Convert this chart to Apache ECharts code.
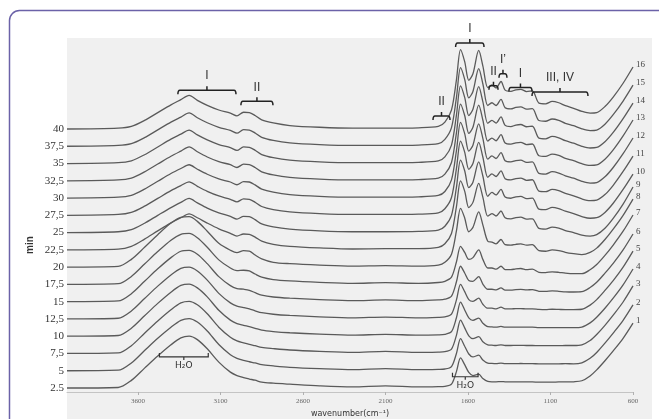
<!DOCTYPE html>
<html>
<head>
<meta charset="UTF-8">
<title>FTIR spectra vs time</title>
<script src="https://cdn.jsdelivr.net/npm/echarts@6/dist/echarts.min.js"></script>
<style>
  html, body { margin: 0; padding: 0; background: #fff; }
  #chart { width: 659px; height: 419px; }
</style>
</head>
<body>
<div id="chart"></div>
<script>
// wavenumber grid (cm-1), shared by all spectra
var wavenumber = [4030, 3720, 3640, 3560, 3480, 3400, 3340, 3290, 3240, 3180, 3110, 3040, 3000, 2960, 2925, 2890, 2850, 2780, 2680,
  2500, 2300, 2100, 1900, 1780, 1740, 1700, 1670,
  1645, 1620, 1595, 1570, 1535, 1510, 1480,
  1455, 1430, 1400, 1375, 1340, 1310, 1280, 1245, 1210, 1170, 1130, 1090, 1050, 1010,
  960, 910, 860, 820, 770, 720, 660, 600];

// absorbance of each spectrum (1 unit = one stacking step)
var s1 = [0, 0.03, 0.44, 1.15, 1.85, 2.5, 2.9, 3.0, 2.8, 2.27, 1.5, 0.92, 0.72, 0.6, 0.52, 0.45, 0.34, 0.28, 0.22,
  0.12, 0.06, 0.12, 0.06, 0.08, 0.1, 0.22, 0.95,
  1.74, 1.35, 0.9, 0.72, 0.8, 0.55, 0.38,
  0.36, 0.36, 0.37, 0.36, 0.35, 0.36, 0.36, 0.35, 0.35, 0.34, 0.34, 0.34, 0.35, 0.35,
  0.36, 0.42, 0.7, 1.05, 1.58, 2.15, 2.88, 3.76];
var s2 = [0, 0.03, 0.45, 1.17, 1.88, 2.52, 2.92, 3.02, 2.82, 2.3, 1.52, 0.93, 0.72, 0.6, 0.52, 0.45, 0.35, 0.28, 0.2,
  0.12, 0.06, 0.12, 0.06, 0.08, 0.1, 0.24, 1.0,
  1.86, 1.42, 0.97, 0.8, 0.9, 0.62, 0.44,
  0.42, 0.41, 0.44, 0.41, 0.41, 0.41, 0.42, 0.41, 0.41, 0.4, 0.4, 0.4, 0.4, 0.41,
  0.4, 0.46, 0.72, 1.06, 1.6, 2.18, 2.92, 3.81];
var s3 = [0, 0.03, 0.45, 1.17, 1.88, 2.53, 2.93, 3.02, 2.82, 2.3, 1.52, 0.94, 0.73, 0.62, 0.53, 0.45, 0.35, 0.28, 0.2,
  0.12, 0.06, 0.12, 0.06, 0.08, 0.1, 0.25, 1.05,
  1.93, 1.48, 1.02, 0.86, 0.97, 0.68, 0.5,
  0.48, 0.46, 0.5, 0.46, 0.46, 0.47, 0.47, 0.46, 0.46, 0.45, 0.45, 0.45, 0.45, 0.46,
  0.46, 0.5, 0.75, 1.1, 1.63, 2.22, 2.98, 3.91];
var s4 = [0, 0.04, 0.46, 1.18, 1.9, 2.55, 2.94, 3.02, 2.8, 2.28, 1.5, 0.93, 0.73, 0.63, 0.55, 0.46, 0.35, 0.27, 0.2,
  0.12, 0.06, 0.11, 0.06, 0.08, 0.11, 0.26, 1.07,
  1.97, 1.52, 1.06, 0.92, 1.05, 0.75, 0.55,
  0.54, 0.52, 0.57, 0.52, 0.52, 0.53, 0.53, 0.52, 0.52, 0.5, 0.5, 0.5, 0.5, 0.5,
  0.5, 0.53, 0.77, 1.1, 1.62, 2.2, 2.97, 3.89];
var s5 = [0, 0.04, 0.46, 1.18, 1.9, 2.55, 2.93, 3.0, 2.78, 2.25, 1.48, 0.93, 0.74, 0.66, 0.58, 0.47, 0.36, 0.27, 0.2,
  0.12, 0.06, 0.11, 0.06, 0.09, 0.12, 0.28, 1.1,
  2.0, 1.58, 1.12, 1.02, 1.2, 0.85, 0.62,
  0.62, 0.58, 0.68, 0.58, 0.58, 0.6, 0.6, 0.58, 0.58, 0.55, 0.54, 0.56, 0.55, 0.54,
  0.54, 0.56, 0.8, 1.12, 1.65, 2.22, 3.0, 3.93];
var s6 = [0, 0.04, 0.46, 1.18, 1.9, 2.55, 2.92, 2.97, 2.75, 2.2, 1.45, 0.93, 0.76, 0.72, 0.66, 0.52, 0.38, 0.27, 0.2,
  0.12, 0.06, 0.1, 0.06, 0.1, 0.14, 0.32, 1.15,
  2.05, 1.66, 1.22, 1.18, 1.45, 1.02, 0.72,
  0.72, 0.68, 0.8, 0.67, 0.67, 0.7, 0.71, 0.68, 0.7, 0.6, 0.59, 0.62, 0.6, 0.57,
  0.56, 0.58, 0.82, 1.12, 1.65, 2.22, 3.0, 3.92];
var s7 = [0, 0.04, 0.46, 1.18, 1.9, 2.56, 2.9, 2.95, 2.7, 2.15, 1.42, 0.95, 0.8, 0.82, 0.78, 0.6, 0.42, 0.28, 0.2,
  0.12, 0.06, 0.1, 0.06, 0.11, 0.18, 0.42, 1.3,
  2.2, 1.85, 1.45, 1.55, 2.0, 1.45, 0.95,
  0.95, 0.88, 1.05, 0.86, 0.85, 0.9, 0.92, 0.86, 0.88, 0.7, 0.68, 0.73, 0.7, 0.65,
  0.62, 0.62, 0.85, 1.15, 1.68, 2.28, 3.08, 4.02];
var s8 = [0, 0.04, 0.45, 1.15, 1.88, 2.55, 2.88, 2.92, 2.65, 2.08, 1.38, 0.98, 0.84, 0.95, 0.93, 0.7, 0.48, 0.28, 0.2,
  0.12, 0.06, 0.09, 0.06, 0.12, 0.28, 0.75, 2.1,
  3.4, 2.85, 2.05, 2.3, 3.2, 2.45, 1.5,
  1.45, 1.35, 1.6, 1.3, 1.27, 1.32, 1.35, 1.27, 1.3, 0.95, 0.92, 1.0, 0.96, 0.86,
  0.78, 0.72, 0.85, 1.1, 1.6, 2.2, 3.0, 3.94];
var s9 = [0, 0.04, 0.2, 0.62, 1.1, 1.56, 1.86, 2.08, 1.86, 1.55, 1.22, 0.96, 0.8, 0.92, 0.9, 0.74, 0.5, 0.32, 0.2,
  0.11, 0.05, 0.07, 0.07, 0.14, 0.35, 0.95, 2.5,
  4.0, 3.4, 2.45, 2.75, 3.85, 3.05, 1.95,
  2.1, 1.96, 2.25, 1.86, 1.8, 1.87, 1.9, 1.78, 1.8, 1.24, 1.2, 1.32, 1.26, 1.12,
  1.0, 0.85, 0.8, 0.88, 1.25, 1.82, 2.65, 3.64];
var s10 = [0, 0.05, 0.17, 0.54, 1.0, 1.45, 1.75, 1.98, 1.72, 1.42, 1.14, 0.94, 0.78, 0.94, 0.92, 0.75, 0.5, 0.33, 0.2,
  0.1, 0.05, 0.05, 0.07, 0.14, 0.37, 1.0, 2.62,
  4.2, 3.58, 2.6, 2.92, 4.1, 3.28, 2.1,
  2.33, 2.18, 2.5, 2.06, 1.99, 2.07, 2.1, 1.97, 2.0, 1.36, 1.33, 1.46, 1.39, 1.24,
  1.1, 0.93, 0.83, 0.86, 1.17, 1.7, 2.5, 3.39];
var s11 = [0, 0.05, 0.17, 0.53, 0.98, 1.43, 1.72, 1.94, 1.68, 1.39, 1.12, 0.93, 0.78, 0.95, 0.93, 0.76, 0.51, 0.33, 0.2,
  0.1, 0.05, 0.05, 0.07, 0.14, 0.38, 1.03, 2.7,
  4.3, 3.66, 2.66, 3.0, 4.22, 3.38, 2.2,
  2.4, 2.25, 2.58, 2.12, 2.05, 2.13, 2.16, 2.03, 2.06, 1.4, 1.37, 1.5, 1.43, 1.27,
  1.13, 0.95, 0.85, 0.88, 1.2, 1.74, 2.54, 3.43];
var s12 = [0, 0.05, 0.16, 0.52, 0.97, 1.42, 1.71, 1.93, 1.67, 1.38, 1.11, 0.93, 0.77, 0.95, 0.93, 0.76, 0.52, 0.34, 0.2,
  0.1, 0.05, 0.05, 0.07, 0.15, 0.38, 1.05, 2.74,
  4.38, 3.73, 2.72, 3.06, 4.3, 3.46, 2.25,
  2.44, 2.29, 2.63, 2.16, 2.09, 2.17, 2.2, 2.07, 2.1, 1.43, 1.39, 1.53, 1.45, 1.29,
  1.15, 0.97, 0.87, 0.9, 1.23, 1.77, 2.57, 3.48];
var s13 = [0, 0.05, 0.16, 0.52, 0.97, 1.42, 1.72, 1.96, 1.68, 1.38, 1.11, 0.93, 0.77, 0.96, 0.94, 0.77, 0.52, 0.34, 0.2,
  0.1, 0.05, 0.05, 0.07, 0.15, 0.39, 1.06, 2.77,
  4.44, 3.78, 2.75, 3.1, 4.38, 3.52, 2.3,
  2.47, 2.32, 2.67, 2.19, 2.12, 2.2, 2.23, 2.1, 2.13, 1.45, 1.41, 1.55, 1.47, 1.3,
  1.17, 0.99, 0.89, 0.92, 1.25, 1.79, 2.6, 3.52];
var s14 = [0, 0.05, 0.16, 0.51, 0.96, 1.41, 1.7, 1.94, 1.66, 1.37, 1.1, 0.92, 0.76, 0.96, 0.94, 0.77, 0.52, 0.34, 0.2,
  0.1, 0.05, 0.05, 0.07, 0.15, 0.39, 1.07, 2.8,
  4.5, 3.83, 2.78, 3.14, 4.45, 3.58, 2.33,
  2.5, 2.34, 2.7, 2.21, 2.14, 2.23, 2.26, 2.13, 2.16, 1.47, 1.43, 1.57, 1.49, 1.32,
  1.18, 1.0, 0.9, 0.93, 1.26, 1.8, 2.6, 3.5];
var s15 = [0, 0.05, 0.15, 0.5, 0.95, 1.4, 1.69, 1.93, 1.65, 1.36, 1.1, 0.92, 0.76, 0.96, 0.94, 0.77, 0.52, 0.34, 0.2,
  0.1, 0.05, 0.05, 0.07, 0.15, 0.4, 1.08, 2.82,
  4.55, 3.87, 2.8, 3.17, 4.5, 3.62, 2.36,
  2.52, 2.36, 2.72, 2.23, 2.16, 2.25, 2.28, 2.15, 2.18, 1.49, 1.45, 1.58, 1.5, 1.33,
  1.19, 1.01, 0.91, 0.94, 1.28, 1.83, 2.62, 3.54];
var s16 = [0, 0.05, 0.15, 0.5, 0.95, 1.4, 1.7, 1.95, 1.66, 1.37, 1.1, 0.92, 0.76, 0.97, 0.95, 0.78, 0.53, 0.35, 0.2,
  0.1, 0.05, 0.05, 0.07, 0.15, 0.4, 1.1, 2.85,
  4.6, 3.9, 2.82, 3.2, 4.55, 3.66, 2.4,
  2.55, 2.38, 2.75, 2.25, 2.18, 2.27, 2.3, 2.17, 2.2, 1.5, 1.46, 1.6, 1.52, 1.35,
  1.2, 1.02, 0.92, 0.95, 1.3, 1.85, 2.65, 3.59];

var spectra = [s1, s2, s3, s4, s5, s6, s7, s8, s9, s10, s11, s12, s13, s14, s15, s16];
var minLabels = ['2.5', '5', '7,5', '10', '12,5', '15', '17,5', '20', '22,5', '25', '27,5', '30', '32,5', '35', '37,5', '40'];
var specLabels = ['1', '2', '3', '4', '5', '6', '7', '8', '9', '10', '11', '12', '13', '14', '15', '16'];
var xTicks = [600, 1100, 1600, 2100, 2600, 3100, 3600];

// band assignments (brackets above the stack)
var bandText = ['I', 'II', 'II', 'I', 'II', 'I\u2019', 'I', 'III, IV'];
var bandFrom = [3358, 2976, 1812, 1675, 1473, 1412, 1352, 1212];
var bandTo = [3006, 2782, 1709, 1503, 1418, 1364, 1212, 873];
var bandLevel = [17.25, 16.6, 15.75, 19.98, 17.5, 18.2, 17.4, 17.14];
// water brackets (below, inside the first spectrum)
var waterFrom = [3470, 1694];
var waterTo = [3174, 1539];
var waterLevel = [1.8, 0.65];

var chart = echarts.init(document.getElementById('chart'));

var lineColor = '#5a5a5a';
var series = spectra.map(function (s, i) {
  var data = s.map(function (v, j) {
    var item = { value: [wavenumber[j], v + i] };
    if (j === 0) {
      item.label = {
        show: true, position: 'left', distance: 3, formatter: minLabels[i],
        fontFamily: 'Liberation Serif', fontSize: 11, color: '#333'
      };
    } else if (j === s.length - 1) {
      item.label = {
        show: true, position: 'right', distance: 3, offset: [0, -2], formatter: specLabels[i],
        fontFamily: 'Liberation Serif', fontSize: 9, color: '#444'
      };
    }
    return item;
  });
  return {
    type: 'line',
    data: data,
    smooth: 0.3,
    showSymbol: true,
    symbol: 'circle',
    symbolSize: 0,
    clip: false,
    silent: true,
    label: { show: false },
    emphasis: { disabled: true },
    lineStyle: { color: lineColor, width: 1.3 },
    itemStyle: { color: lineColor },
    z: 3
  };
});

series.push({
  type: 'custom',
  clip: false,
  silent: true,
  z: 5,
  data: bandText.map(function (t, i) { return [bandFrom[i], bandTo[i], bandLevel[i], i]; }),
  encode: { x: [0, 1], y: 2 },
  renderItem: function (params, api) {
    var a = api.coord([api.value(0), api.value(2)]);
    var b = api.coord([api.value(1), api.value(2)]);
    var x1 = Math.min(a[0], b[0]), x2 = Math.max(a[0], b[0]), y = a[1], cx = (x1 + x2) / 2;
    var p = 'M' + x1 + ' ' + (y + 4) + ' Q' + x1 + ' ' + y + ' ' + (x1 + 2) + ' ' + y +
      ' L' + (x2 - 2) + ' ' + y + ' Q' + x2 + ' ' + y + ' ' + x2 + ' ' + (y + 4) +
      ' M' + cx + ' ' + y + ' L' + cx + ' ' + (y - 4);
    return {
      type: 'group',
      children: [
        { type: 'path', shape: { pathData: p }, style: { fill: 'none', stroke: '#222', lineWidth: 1.5 } },
        { type: 'text', x: cx, y: y - 14, style: { text: bandText[api.value(3)], fill: '#333', font: '12px "Liberation Sans"', align: 'center', verticalAlign: 'middle' } }
      ]
    };
  }
});

series.push({
  type: 'custom',
  clip: false,
  silent: true,
  z: 5,
  data: waterFrom.map(function (f, i) { return [f, waterTo[i], waterLevel[i]]; }),
  encode: { x: [0, 1], y: 2 },
  renderItem: function (params, api) {
    var a = api.coord([api.value(0), api.value(2)]);
    var b = api.coord([api.value(1), api.value(2)]);
    var x1 = Math.min(a[0], b[0]), x2 = Math.max(a[0], b[0]), y = a[1], cx = (x1 + x2) / 2;
    var p = 'M' + x1 + ' ' + (y - 4) + ' L' + x1 + ' ' + y + ' L' + x2 + ' ' + y + ' L' + x2 + ' ' + (y - 4) +
      ' M' + cx + ' ' + y + ' L' + cx + ' ' + (y + 3);
    return {
      type: 'group',
      children: [
        { type: 'path', shape: { pathData: p }, style: { fill: 'none', stroke: '#333', lineWidth: 1.2 } },
        { type: 'text', x: cx, y: y + 9, style: { text: 'H\u2082O', fill: '#333', font: '9px "DejaVu Sans"', align: 'center', verticalAlign: 'middle' } }
      ]
    };
  }
});

var option = {
  animation: false,
  backgroundColor: '#ffffff',
  grid: { left: 67, right: 26, top: 38, bottom: 27, outerBoundsMode: 'none' },
  xAxis: {
    type: 'value',
    inverse: true,
    min: 600,
    max: 4030,
    name: 'wavenumber(cm\u207B\u00B9)',
    nameLocation: 'middle',
    nameGap: 17,
    nameTextStyle: { fontFamily: 'DejaVu Sans', fontSize: 8, color: '#333' },
    axisLine: { show: true, onZero: false, lineStyle: { color: '#c4c4c4', width: 1 } },
    axisTick: { show: true, length: 3, customValues: xTicks, lineStyle: { color: '#b0b0b0' } },
    axisLabel: {
      customValues: xTicks, fontFamily: 'Liberation Serif', fontSize: 7, color: '#666', margin: 6,
      formatter: function (v) { return String(v); }
    },
    splitLine: { show: false }
  },
  yAxis: { type: 'value', min: -0.232, max: 20.27, show: false },
  graphic: [
    { type: 'rect', z: -10, silent: true, shape: { x: 67, y: 38, width: 585, height: 390 }, style: { fill: '#f0f0f0' } },
    { type: 'rect', silent: true, shape: { x: 9.5, y: 10.5, width: 700, height: 500, r: 10 }, style: { fill: 'none', stroke: '#6b62a8', lineWidth: 1.5 } },
    { type: 'text', x: 30, y: 245, rotation: Math.PI / 2, style: { text: 'min', font: 'bold 10px "Liberation Sans"', fill: '#333', align: 'center', verticalAlign: 'middle' } }
  ],
  series: series
};

chart.setOption(option);
</script>
</body>
</html>
